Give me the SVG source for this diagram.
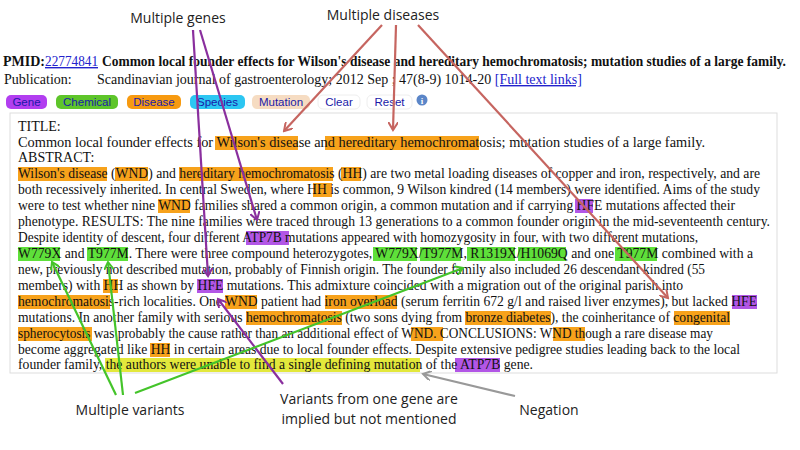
<svg xmlns="http://www.w3.org/2000/svg" width="800" height="450" viewBox="0 0 800 450">
<style>
.t{font-family:"Liberation Serif",serif;font-size:14px;fill:#111}
.b{font-weight:bold}
.lk{fill:#2222cc;text-decoration:underline}
.btn{font-family:"Liberation Sans",sans-serif;font-size:11.5px;fill:#1a1aa8;text-anchor:middle}
.lbl{font-family:"Open Sans",sans-serif;font-size:14px;fill:#222;text-anchor:middle}
.o{fill:#f7a21b}.p{fill:#b256e6}.g{fill:#5ee03a}.y{fill:#e3e83c}
.ar{fill:none;stroke-width:2.2}
</style>
<defs>
<marker id="mp" markerWidth="10" markerHeight="10" refX="8" refY="5" orient="auto" markerUnits="userSpaceOnUse"><path d="M0,0 L8,5 L0,10" fill="none" stroke="#8a2f9e" stroke-width="2"/></marker>
<marker id="mr" markerWidth="10" markerHeight="10" refX="8" refY="5" orient="auto" markerUnits="userSpaceOnUse"><path d="M0,0 L8,5 L0,10" fill="none" stroke="#c66560" stroke-width="2"/></marker>
<marker id="mg" markerWidth="10" markerHeight="10" refX="8" refY="5" orient="auto" markerUnits="userSpaceOnUse"><path d="M0,0 L8,5 L0,10" fill="none" stroke="#44c42a" stroke-width="2"/></marker>
<marker id="mx" markerWidth="10" markerHeight="10" refX="8" refY="5" orient="auto" markerUnits="userSpaceOnUse"><path d="M0,0 L8,5 L0,10" fill="none" stroke="#999" stroke-width="2"/></marker>
</defs>
<rect width="800" height="450" fill="#fff"/>
<g id="header">
<text class="t b" x="3" y="66">PMID:</text>
<text class="t lk" x="45" y="66" textLength="53" lengthAdjust="spacingAndGlyphs">22774841</text>
<text class="t b" x="102" y="66" textLength="684" lengthAdjust="spacingAndGlyphs">Common local founder effects for Wilson's disease and hereditary hemochromatosis; mutation studies of a large family.</text>
<text class="t" x="4" y="84">Publication:</text>
<text class="t" x="97" y="84">Scandinavian journal of gastroenterology; 2012 Sep ; 47(8-9) 1014-20 <tspan class="lk">[Full text links]</tspan></text>
</g>
<g id="buttons">
<rect x="6" y="95" width="41" height="14" rx="5" fill="#b23ef0"/><text class="btn" x="26.5" y="106">Gene</text>
<rect x="56" y="95" width="62" height="14" rx="5" fill="#5ec52a"/><text class="btn" x="87" y="106">Chemical</text>
<rect x="127" y="95" width="54" height="14" rx="5" fill="#f79a10"/><text class="btn" x="154" y="106">Disease</text>
<rect x="190" y="95" width="55" height="14" rx="5" fill="#2cc6f2"/><text class="btn" x="217.5" y="106">Species</text>
<rect x="252" y="95" width="58" height="14" rx="5" fill="#f6dcc2"/><text class="btn" x="281" y="106">Mutation</text>
<rect x="318" y="95" width="42" height="14" rx="5" fill="#fff" stroke="#eee"/><text class="btn" x="339" y="106">Clear</text>
<rect x="367" y="95" width="45" height="14" rx="5" fill="#fff" stroke="#eee"/><text class="btn" x="389.5" y="106">Reset</text>
<circle cx="422" cy="100" r="5.5" fill="#5b86c8"/><text x="422" y="104" font-family="Liberation Serif,serif" font-size="9" font-weight="bold" fill="#fff" text-anchor="middle">i</text>
</g>
<g id="abstract">
<rect x="10" y="113" width="767" height="260" fill="#fff" stroke="#ddd"/>
<rect class="o" x="215" y="136" width="83" height="14"/><rect class="o" x="325" y="136" width="154" height="14"/>
<rect class="o" x="18" y="167" width="89" height="14"/><rect class="o" x="115" y="167" width="33" height="14"/><rect class="o" x="179" y="167" width="154" height="14"/><rect class="o" x="341" y="167" width="20" height="14"/>
<rect class="o" x="313" y="183" width="19" height="14"/>
<rect class="o" x="158" y="199" width="32" height="14"/><rect class="p" x="575" y="199" width="18" height="14"/>
<rect class="p" x="246" y="231" width="43" height="14"/>
<rect class="g" x="18" y="247" width="42" height="14"/><rect class="g" x="87" y="247" width="41" height="14"/><rect class="g" x="373" y="247" width="44" height="14"/><rect class="g" x="420" y="247" width="41" height="14"/><rect class="g" x="467" y="247" width="48" height="14"/><rect class="g" x="518" y="247" width="48" height="14"/><rect class="g" x="615" y="247" width="42" height="14"/>
<rect class="o" x="103" y="279" width="15" height="14"/><rect class="p" x="197" y="279" width="26" height="14"/>
<rect class="o" x="18" y="295" width="92" height="14"/><rect class="o" x="225" y="295" width="32" height="14"/><rect class="o" x="325" y="295" width="72" height="14"/><rect class="p" x="732" y="295" width="25" height="14"/>
<rect class="o" x="246" y="311" width="96" height="14"/><rect class="o" x="465" y="311" width="86" height="14"/><rect class="o" x="674" y="311" width="56" height="14"/>
<rect class="o" x="18" y="327" width="74" height="14"/><rect class="o" x="411" y="327" width="32" height="14"/><rect class="o" x="553" y="327" width="32" height="14"/>
<rect class="o" x="150" y="343" width="20" height="14"/>
<rect class="y" x="105" y="358" width="315" height="14"/><rect class="p" x="455" y="358" width="45" height="14"/>
<text class="t" x="18" y="131">TITLE:</text>
<text class="t" x="18" y="147" textLength="687" lengthAdjust="spacingAndGlyphs">Common local founder effects for Wilson's disease and hereditary hemochromatosis; mutation studies of a large family.</text>
<text class="t" x="18" y="162">ABSTRACT:</text>
<text class="t" x="18" y="178" textLength="742" lengthAdjust="spacingAndGlyphs">Wilson's disease (WND) and hereditary hemochromatosis (HH) are two metal loading diseases of copper and iron, respectively, and are</text>
<text class="t" x="18" y="194" textLength="742" lengthAdjust="spacingAndGlyphs">both recessively inherited. In central Sweden, where HH is common, 9 Wilson kindred (14 members) were identified. Aims of the study</text>
<text class="t" x="18" y="210" textLength="717" lengthAdjust="spacingAndGlyphs">were to test whether nine WND families shared a common origin, a common mutation and if carrying HFE mutations affected their</text>
<text class="t" x="18" y="226" textLength="752" lengthAdjust="spacingAndGlyphs">phenotype. RESULTS: The nine families were traced through 13 generations to a common founder origin in the mid-seventeenth century.</text>
<text class="t" x="18" y="242" textLength="680" lengthAdjust="spacingAndGlyphs">Despite identity of descent, four different ATP7B mutations appeared with homozygosity in four, with two different mutations,</text>
<text class="t" x="18" y="258" textLength="735" lengthAdjust="spacingAndGlyphs">W779X and T977M. There were three compound heterozygotes, W779X/T977M, R1319X/H1069Q and one T977M combined with a</text>
<text class="t" x="18" y="274" textLength="687" lengthAdjust="spacingAndGlyphs">new, previously not described mutation, probably of Finnish origin. The founder family also included 26 descendant kindred (55</text>
<text class="t" x="18" y="290" textLength="665" lengthAdjust="spacingAndGlyphs">members) with HH as shown by HFE mutations. This admixture coincided with a migration out of the original parish into</text>
<text class="t" x="18" y="306" textLength="739" lengthAdjust="spacingAndGlyphs">hemochromatosis-rich localities. One WND patient had iron overload (serum ferritin 672 g/l and raised liver enzymes), but lacked HFE</text>
<text class="t" x="18" y="322" textLength="712" lengthAdjust="spacingAndGlyphs">mutations. In another family with serious hemochromatosis (two sons dying from bronze diabetes), the coinheritance of congenital</text>
<text class="t" x="18" y="338" textLength="695" lengthAdjust="spacingAndGlyphs">spherocytosis was probably the cause rather than an additional effect of WND. CONCLUSIONS: WND though a rare disease may</text>
<text class="t" x="18" y="354" textLength="722" lengthAdjust="spacingAndGlyphs">become aggregated like HH in certain areas due to local founder effects. Despite extensive pedigree studies leading back to the local</text>
<text class="t" x="18" y="369" textLength="515" lengthAdjust="spacingAndGlyphs">founder family, the authors were unable to find a single defining mutation of the ATP7B gene.</text>
</g>
<g id="labels">
<text class="lbl" x="178" y="23">Multiple genes</text>
<text class="lbl" x="383" y="20">Multiple diseases</text>
<text class="lbl" x="130" y="415">Multiple variants</text>
<text class="lbl" x="369" y="404">Variants from one gene are</text>
<text class="lbl" x="369" y="424">implied but not mentioned</text>
<text class="lbl" x="549" y="415">Negation</text>
</g>
<g id="connectors">
<line class="ar" stroke="#8a2f9e" x1="193" y1="30" x2="208" y2="276" marker-end="url(#mp)"/>
<line class="ar" stroke="#8a2f9e" x1="200" y1="30" x2="257" y2="220" marker-end="url(#mp)"/>
<line class="ar" stroke="#8a2f9e" x1="283" y1="384" x2="218" y2="299" marker-end="url(#mp)"/>
<line class="ar" stroke="#c66560" x1="382" y1="25" x2="284" y2="131" marker-end="url(#mr)"/>
<line class="ar" stroke="#c66560" x1="396" y1="25" x2="393" y2="130" marker-end="url(#mr)"/>
<line class="ar" stroke="#c66560" x1="418" y1="25" x2="668" y2="298" marker-end="url(#mr)"/>
<line class="ar" stroke="#44c42a" x1="116" y1="395" x2="52" y2="262" marker-end="url(#mg)"/>
<line class="ar" stroke="#44c42a" x1="123" y1="395" x2="108" y2="262" marker-end="url(#mg)"/>
<line class="ar" stroke="#44c42a" x1="135" y1="393" x2="463" y2="268" marker-end="url(#mg)"/>
<line class="ar" stroke="#999" x1="515" y1="396" x2="423" y2="374" marker-end="url(#mx)"/>
</g>
</svg>
